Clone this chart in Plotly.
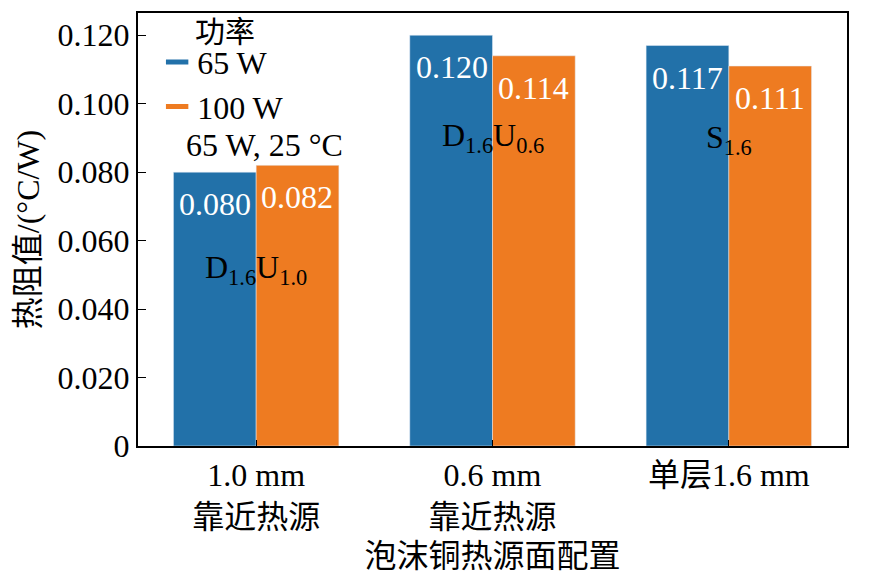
import plotly.graph_objects as go

categories = ["1.0 mm<br>靠近热源", "0.6 mm<br>靠近热源", "单层1.6 mm"]
r_65w = [0.080, 0.120, 0.117]
r_100w = [0.082, 0.114, 0.111]
config_labels = ["D<sub>1.6</sub>U<sub>1.0</sub>", "D<sub>1.6</sub>U<sub>0.6</sub>", "S<sub>1.6</sub>"]
config_label_y = [0.0515, 0.090, 0.0895]
y_ticks = [0, 0.02, 0.04, 0.06, 0.08, 0.10, 0.12]
y_ticktext = ["0", "0.020", "0.040", "0.060", "0.080", "0.100", "0.120"]

blue = "#2271a9"
orange = "#ee7b21"
font_family = "Liberation Serif, Noto Sans CJK SC"
fs = 32

fig = go.Figure()
fig.add_trace(go.Bar(x=categories, y=r_65w, marker_color=blue, showlegend=False))
fig.add_trace(go.Bar(x=categories, y=r_100w, marker_color=orange, showlegend=False))

# legend entries drawn as short dashes
for name, c in [("65 W", blue), ("100 W", orange)]:
    fig.add_trace(go.Scatter(x=[None], y=[None], mode="markers", name=name,
                             marker=dict(symbol="line-ew", size=16, color=c,
                                         line=dict(color=c, width=5))))

# value labels inside bars
for i, cat in enumerate(categories):
    for val, shift in [(r_65w[i], -41), (r_100w[i], 41)]:
        fig.add_annotation(x=cat, y=val, text=f"{val:.3f}", showarrow=False,
                           xshift=shift, yanchor="top", yshift=-12,
                           font=dict(color="white", size=fs, family=font_family))
    fig.add_annotation(x=cat, y=config_label_y[i], text=config_labels[i], showarrow=False,
                       font=dict(color="black", size=fs, family=font_family))

fig.add_annotation(x=categories[0], y=r_100w[0], text="65 W, 25 °C", showarrow=False,
                   xshift=8, yanchor="bottom", yshift=0,
                   font=dict(color="black", size=fs, family=font_family))

# legend title
fig.add_annotation(xref="paper", yref="paper", x=0.078, y=1.0, text="功率", showarrow=False,
                   xanchor="left", yanchor="top", yshift=0,
                   font=dict(color="black", size=30, family=font_family))

fig.update_layout(
    width=865, height=575,
    margin=dict(l=130, r=26, t=5, b=137),
    plot_bgcolor="white", paper_bgcolor="white",
    barmode="group", bargap=0.3, bargroupgap=0,
    font=dict(family=font_family, size=fs, color="black"),
    legend=dict(x=0.027, y=0.95, xanchor="left", yanchor="top",
                bgcolor="rgba(0,0,0,0)", itemwidth=30, tracegroupgap=0,
                font=dict(size=fs)),
    xaxis=dict(showline=True, linecolor="black", linewidth=2, mirror=True,
               ticks="inside", ticklen=6, tickcolor="black", automargin=False,
               title=dict(text="泡沫铜热源面配置", font=dict(size=fs), standoff=11)),
    yaxis=dict(range=[0, 0.1265], showline=True, linecolor="black", linewidth=2, mirror=True,
               ticks="inside", ticklen=8, tickcolor="black", showgrid=False, zeroline=False,
               tickvals=y_ticks, ticktext=y_ticktext, automargin=False,
               title=dict(text="热阻值/(°C/W)", font=dict(size=fs), standoff=8)),
)

fig.write_html("out.html")
